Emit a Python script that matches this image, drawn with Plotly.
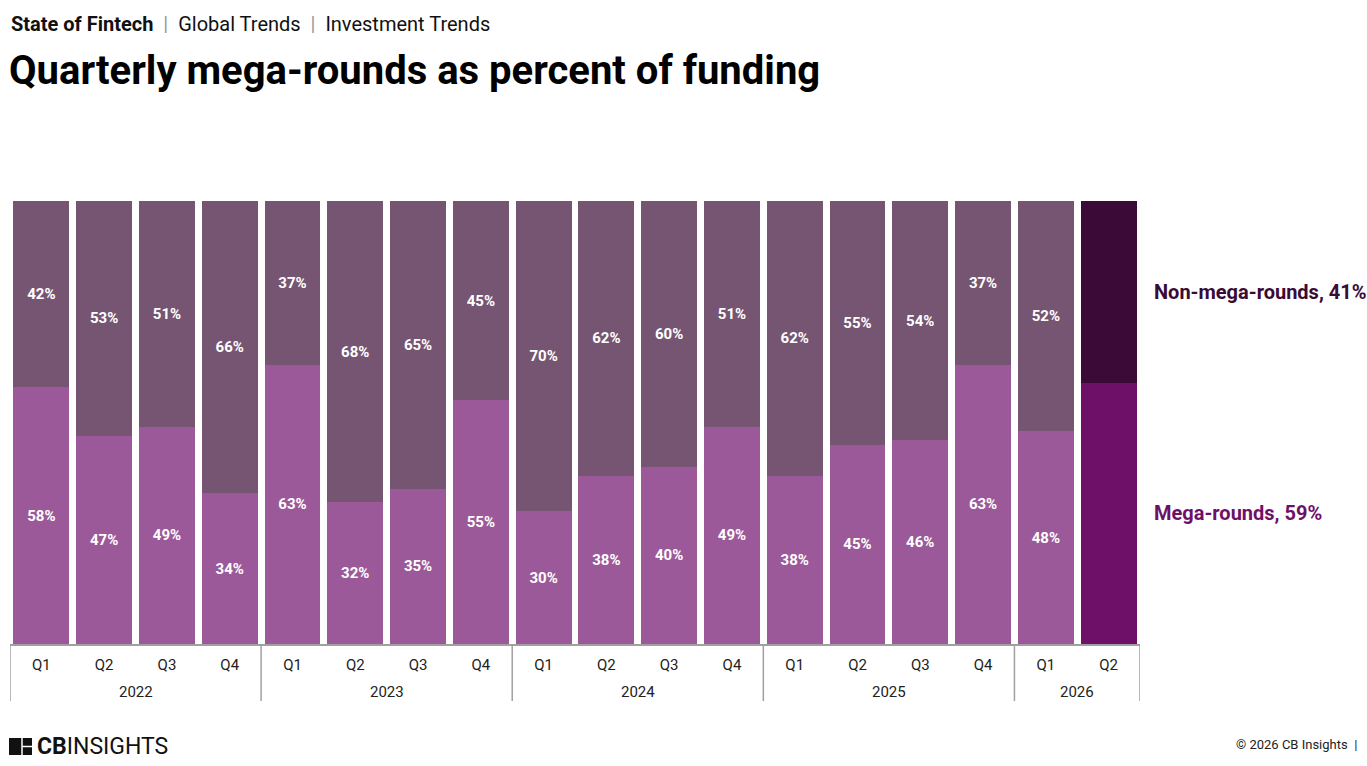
import plotly.graph_objects as go

# data
years = ["2022"] * 4 + ["2023"] * 4 + ["2024"] * 4 + ["2025"] * 4 + ["2026"] * 2
quarters = ["Q1", "Q2", "Q3", "Q4"] * 4 + ["Q1", "Q2"]
mega = [58, 47, 49, 34, 63, 32, 35, 55, 30, 38, 40, 49, 38, 45, 46, 63, 48, 59]
non_mega = [42, 53, 51, 66, 37, 68, 65, 45, 70, 62, 60, 51, 62, 55, 54, 37, 52, 41]

MEGA_C = "#9c5999"
NON_C = "#765572"
MEGA_LAST = "#6f1068"
NON_LAST = "#3b0a36"
GRID = "#a0a0a0"

W, H = 1367, 766
L, R, T, B = 10, 227, 201, 122
PW, PH = W - L - R, H - T - B


def px(x):
    return (x - L) / PW


def py(y):
    return (H - B - y) / PH


keys = [f"{y} {q}" for y, q in zip(years, quarters)]
mega_colors = [MEGA_C] * (len(mega) - 1) + [MEGA_LAST]
non_colors = [NON_C] * (len(non_mega) - 1) + [NON_LAST]

fig = go.Figure()
fig.add_trace(go.Bar(
    x=keys, y=mega, name="Mega-rounds",
    marker=dict(color=mega_colors, line=dict(width=0)),
    text=[f"{v}%" if i < len(mega) - 1 else "" for i, v in enumerate(mega)],
    textposition="inside", insidetextanchor="middle",
    textfont=dict(family="Roboto", size=15, color="white", weight="bold"),
    hoverinfo="skip",
))
fig.add_trace(go.Bar(
    x=keys, y=non_mega, name="Non-mega-rounds",
    marker=dict(color=non_colors, line=dict(width=0)),
    text=[f"{v}%" if i < len(non_mega) - 1 else "" for i, v in enumerate(non_mega)],
    textposition="inside", insidetextanchor="middle",
    textfont=dict(family="Roboto", size=15, color="white", weight="bold"),
    hoverinfo="skip",
))

fig.update_layout(
    width=W, height=H,
    margin=dict(l=L, r=R, t=T, b=B),
    barmode="stack", bargap=0.11,
    plot_bgcolor="white", paper_bgcolor="white",
    showlegend=False,
    font=dict(family="Roboto", color="#222"),
    uniformtext=dict(mode="show", minsize=10),
)
fig.update_xaxes(
    tickvals=keys, ticktext=quarters,
    showline=True, linecolor=GRID, linewidth=1.5,
    tickfont=dict(family="Roboto", size=15, color="#222"),
    ticks="", ticklabelstandoff=6,
    range=[-0.5, len(keys) - 0.5],
)
fig.update_yaxes(range=[0, 100], visible=False, showgrid=False)

# year group labels and dividers under the axis
bounds = [0] + [i for i in range(1, len(years)) if years[i] != years[i - 1]] + [len(years)]
for a, b in zip(bounds[:-1], bounds[1:]):
    fig.add_annotation(
        x=(a + b - 1) / 2, y=py(692), xref="x", yref="paper",
        xanchor="center", yanchor="middle", showarrow=False,
        font=dict(family="Roboto", size=15, color="#222"), text=years[a],
    )
for k in bounds:
    fig.add_shape(type="line", xref="x", yref="paper",
                  x0=k - 0.5, x1=k - 0.5, y0=0, y1=py(701),
                  line=dict(color=GRID, width=1.5))

# header
fig.add_annotation(
    x=px(9), y=py(24), xref="paper", yref="paper", xanchor="left", yanchor="middle",
    showarrow=False, font=dict(family="Roboto", size=20, color="#111"),
    text="<b>State of Fintech</b> <span style='color:#999'> | </span> Global Trends "
         "<span style='color:#999'> | </span> Investment Trends",
)
fig.add_annotation(
    x=px(7), y=py(71), xref="paper", yref="paper", xanchor="left", yanchor="middle",
    showarrow=False, font=dict(family="Roboto", size=40, color="#000", weight="bold"),
    text="Quarterly mega-rounds as percent of funding",
)

# direct labels for the latest bar
fig.add_annotation(
    x=px(1152), y=mega[-1] + non_mega[-1] / 2, xref="paper", yref="y",
    xanchor="left", yanchor="middle", showarrow=False,
    font=dict(family="Roboto", size=20, color=NON_LAST, weight="bold"),
    text=f"Non-mega-rounds, {non_mega[-1]}%",
)
fig.add_annotation(
    x=px(1152), y=mega[-1] / 2, xref="paper", yref="y",
    xanchor="left", yanchor="middle", showarrow=False,
    font=dict(family="Roboto", size=20, color=MEGA_LAST, weight="bold"),
    text=f"Mega-rounds, {mega[-1]}%",
)

# footer logo
fig.add_shape(type="rect", xref="paper", yref="paper",
              x0=px(9), x1=px(32), y0=py(755), y1=py(738),
              fillcolor="#111", line=dict(width=0))
fig.add_shape(type="line", xref="paper", yref="paper",
              x0=px(22), x1=px(22), y0=py(755), y1=py(738),
              line=dict(color="white", width=1.5))
fig.add_shape(type="line", xref="paper", yref="paper",
              x0=px(22), x1=px(32), y0=py(746.5), y1=py(746.5),
              line=dict(color="white", width=1.5))
fig.add_annotation(
    x=px(35), y=py(746), xref="paper", yref="paper", xanchor="left", yanchor="middle",
    showarrow=False, font=dict(family="Roboto", size=23, color="#111"),
    text="<b>CB</b>INSIGHTS",
)
fig.add_annotation(
    x=px(1234), y=py(744), xref="paper", yref="paper", xanchor="left", yanchor="middle",
    showarrow=False, font=dict(family="Roboto", size=13, color="#222"),
    text="© 2026 CB Insights  |",
)

fig.write_html("out.html", config={"displayModeBar": False},
               post_script="document.body.style.margin='0px';")
